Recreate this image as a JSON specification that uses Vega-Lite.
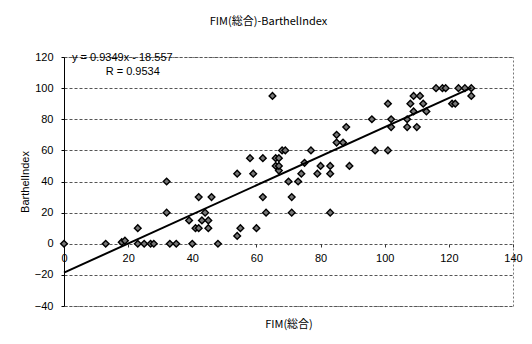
{
  "$schema": "https://vega.github.io/schema/vega-lite/v6.json",
  "width": 449,
  "height": 249,
  "autosize": {"type": "none"},
  "padding": {"left": 64, "top": 57, "right": 19, "bottom": 38},
  "background": "white",
  "title": {"text": "FIM(総合)-BarthelIndex", "font": "Noto Sans CJK JP", "fontSize": 11, "fontWeight": "normal", "color": "#000", "offset": 24, "dx": -20},
  "config": {"view": {"stroke": "#777", "strokeDash": [2, 2]}, "font": "Liberation Sans"},
  "encoding": {
    "x": {"field": "fim", "type": "quantitative", "scale": {"domain": [0, 140], "nice": false, "zero": false},
      "axis": {"title": "FIM(総合)", "titleFont": "Noto Sans CJK JP", "titleFontSize": 11, "titleFontWeight": "normal", "titleColor": "#000", "titleBaseline": "top", "titleY": 74,
        "values": [0, 20, 40, 60, 80, 100, 120, 140], "offset": -62, "domain": false, "grid": false, "ticks": true, "tickSize": 3, "tickColor": "#333",
        "labelFontSize": 11, "labelColor": "#000", "labelPadding": 5, "labelFont": "Liberation Sans", "labelFlush": false, "labelOverlap": false}},
    "y": {"field": "bi", "type": "quantitative", "scale": {"domain": [-40, 120], "nice": false, "zero": false},
      "axis": {"title": "BarthelIndex", "titleFont": "Liberation Sans", "titleFontSize": 11, "titleFontWeight": "normal", "titleColor": "#000", "titlePadding": 4,
        "values": [-40, -20, 0, 20, 40, 60, 80, 100, 120], "domain": true, "domainColor": "#000", "domainWidth": 1, "ticks": true, "tickSize": 3, "tickColor": "#000",
        "grid": true, "gridColor": "#555", "gridDash": [3, 2], "labelFontSize": 11, "labelColor": "#000", "labelPadding": 8, "labelFont": "Liberation Sans", "labelFlush": false}}
  },
  "layer": [
    {
      "data": {"values": [
        {"fim": 0, "bi": 0}, {"fim": 13, "bi": 0}, {"fim": 18, "bi": 1}, {"fim": 19, "bi": 2}, {"fim": 23, "bi": 0}, {"fim": 25, "bi": 0},
        {"fim": 27, "bi": 0}, {"fim": 28, "bi": 0}, {"fim": 33, "bi": 0}, {"fim": 35, "bi": 0}, {"fim": 40, "bi": 0}, {"fim": 48, "bi": 0},
        {"fim": 54, "bi": 5},
        {"fim": 23, "bi": 10}, {"fim": 41, "bi": 10}, {"fim": 42, "bi": 10}, {"fim": 45, "bi": 10}, {"fim": 55, "bi": 10}, {"fim": 60, "bi": 10},
        {"fim": 39, "bi": 15}, {"fim": 43, "bi": 15}, {"fim": 45, "bi": 15},
        {"fim": 32, "bi": 20}, {"fim": 44, "bi": 20}, {"fim": 63, "bi": 20}, {"fim": 71, "bi": 20}, {"fim": 83, "bi": 20},
        {"fim": 42, "bi": 30}, {"fim": 46, "bi": 30}, {"fim": 62, "bi": 30}, {"fim": 71, "bi": 30},
        {"fim": 32, "bi": 40}, {"fim": 70, "bi": 40}, {"fim": 73, "bi": 40},
        {"fim": 54, "bi": 45}, {"fim": 59, "bi": 45}, {"fim": 74, "bi": 45}, {"fim": 79, "bi": 45}, {"fim": 83, "bi": 45}, {"fim": 67, "bi": 47},
        {"fim": 66, "bi": 50}, {"fim": 67, "bi": 50}, {"fim": 80, "bi": 50}, {"fim": 83, "bi": 50}, {"fim": 89, "bi": 50}, {"fim": 75, "bi": 52},
        {"fim": 58, "bi": 55}, {"fim": 62, "bi": 55}, {"fim": 66, "bi": 55}, {"fim": 67, "bi": 55},
        {"fim": 68, "bi": 60}, {"fim": 69, "bi": 60}, {"fim": 77, "bi": 60}, {"fim": 97, "bi": 60}, {"fim": 101, "bi": 60},
        {"fim": 85, "bi": 65}, {"fim": 87, "bi": 65},
        {"fim": 85, "bi": 70},
        {"fim": 88, "bi": 75}, {"fim": 102, "bi": 75}, {"fim": 107, "bi": 75}, {"fim": 110, "bi": 75},
        {"fim": 96, "bi": 80}, {"fim": 102, "bi": 80}, {"fim": 107, "bi": 80},
        {"fim": 109, "bi": 85}, {"fim": 113, "bi": 85},
        {"fim": 101, "bi": 90}, {"fim": 108, "bi": 90}, {"fim": 112, "bi": 90}, {"fim": 121, "bi": 90}, {"fim": 122, "bi": 90},
        {"fim": 65, "bi": 95}, {"fim": 109, "bi": 95}, {"fim": 111, "bi": 95}, {"fim": 127, "bi": 95},
        {"fim": 116, "bi": 100}, {"fim": 118, "bi": 100}, {"fim": 119, "bi": 100}, {"fim": 123, "bi": 100}, {"fim": 125, "bi": 100}, {"fim": 127, "bi": 100}
      ]},
      "mark": {"type": "point", "shape": "diamond", "filled": true, "fill": "#777", "stroke": "#000", "strokeWidth": 1.4, "size": 45, "opacity": 1}
    },
    {
      "data": {"values": [{"fim": 0, "bi": -18.557}, {"fim": 127, "bi": 100.176}]},
      "mark": {"type": "line", "color": "#000", "strokeWidth": 2}
    },
    {
      "data": {"values": [
        {"fim": 2.5, "bi": 119.5, "label": "y = 0.9349x - 18.557"},
        {"fim": 13, "bi": 110.5, "label": "R = 0.9534"}
      ]},
      "mark": {"type": "text", "align": "left", "baseline": "middle", "fontSize": 11, "font": "Liberation Sans", "color": "#000"},
      "encoding": {"text": {"field": "label", "type": "nominal"}}
    }
  ]
}
